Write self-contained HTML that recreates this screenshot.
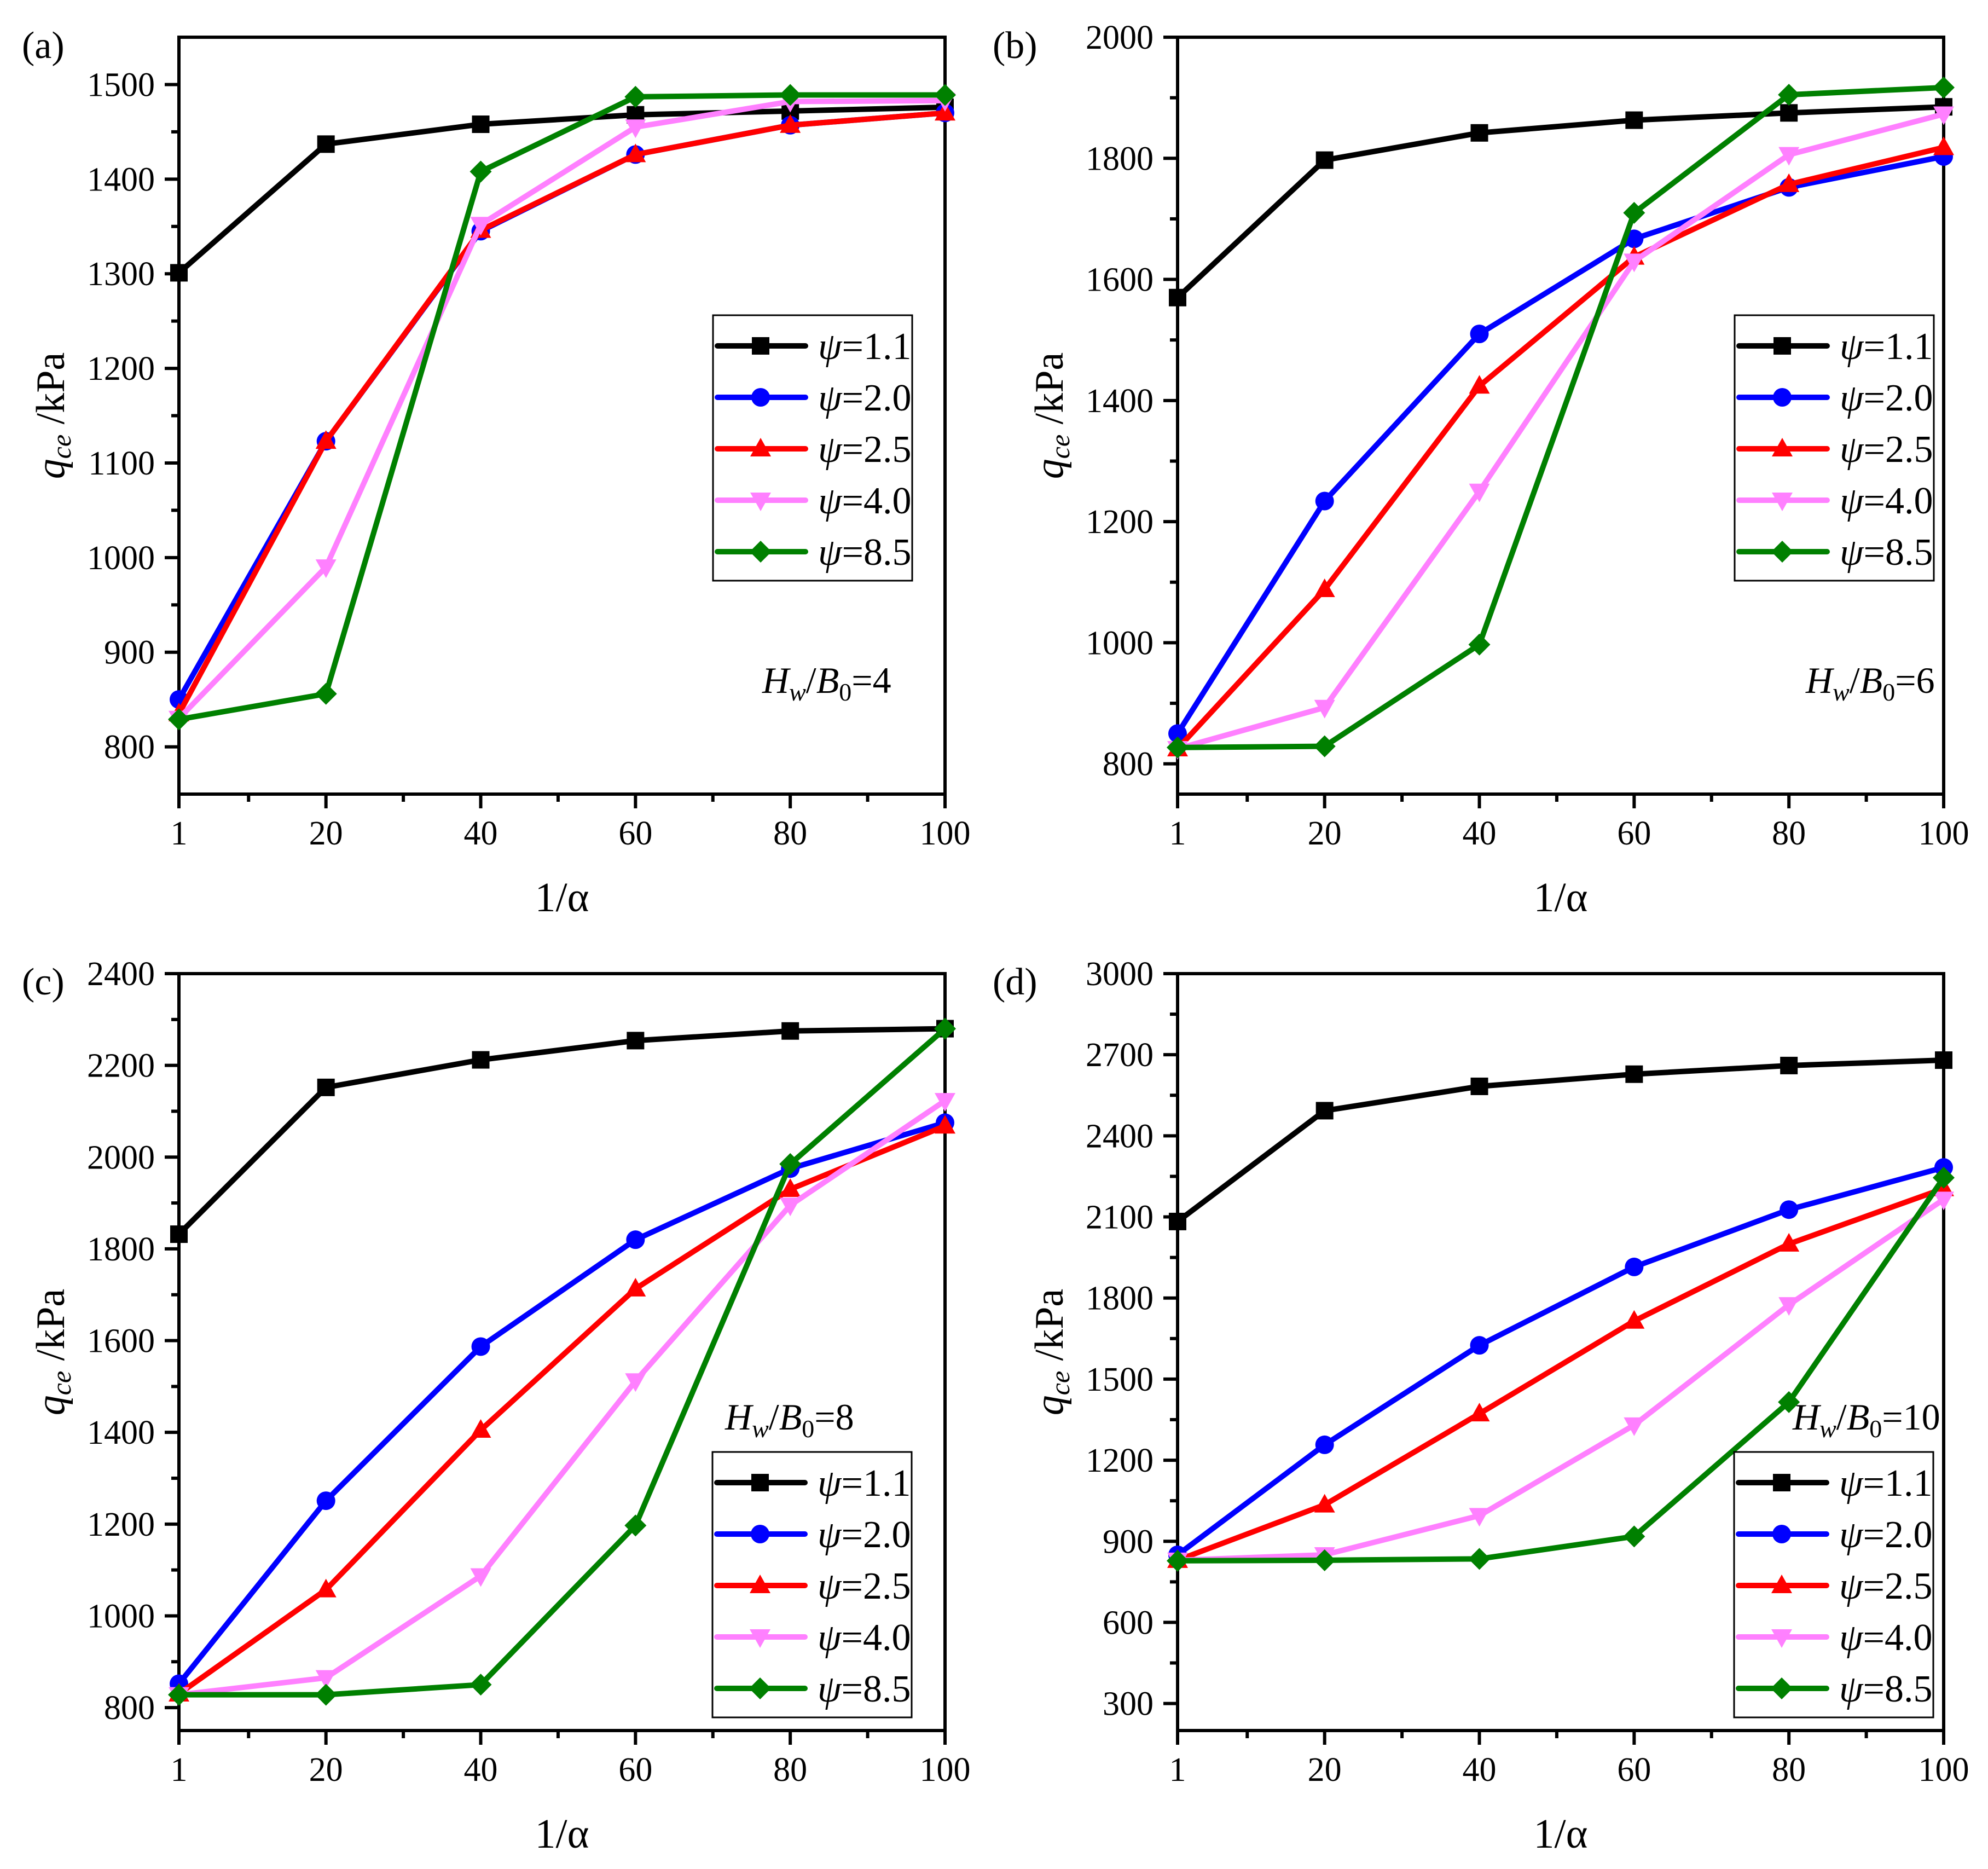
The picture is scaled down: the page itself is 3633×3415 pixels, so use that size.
<!DOCTYPE html>
<html><head><meta charset="utf-8"><style>
html,body{margin:0;padding:0;background:#fff;}
svg{display:block;}
text{font-family:"Liberation Serif","Times New Roman",serif;}
</style></head><body>
<svg id="fig" width="3633" height="3415" viewBox="0 0 3633 3415" xmlns="http://www.w3.org/2000/svg" font-family="Liberation Serif, serif"></svg>
<script>
const xCats=[1,20,40,60,80,100];
const seriesNames=['ψ=1.1','ψ=2.0','ψ=2.5','ψ=4.0','ψ=8.5'];
const colors=['#000000','#0000ff','#ff0000','#ff80ff','#008000'];
const markers=['square','circle','up','down','diamond'];
// panel a
const a_s1=[1301,1437,1458,1468,1472,1476];
const a_s2=[850,1123,1345,1426,1457,1470];
const a_s3=[835,1123,1346,1426,1457,1470];
const a_s4=[830,990,1352,1455,1482,1483];
const a_s5=[829,856,1408,1487,1489,1489];
const a_yticks=[800,900,1000,1100,1200,1300,1400,1500];
// panel b
const b_s1=[1570,1797,1842,1863,1875,1885];
const b_s2=[850,1234,1510,1667,1752,1803];
const b_s3=[825,1088,1424,1637,1757,1818];
const b_s4=[825,893,1250,1630,1806,1873];
const b_s5=[827,829,997,1710,1905,1917];
const b_yticks=[800,1000,1200,1400,1600,1800,2000];
// panel c
const c_s1=[1832,2152,2212,2254,2275,2280];
const c_s2=[852,1251,1587,1820,1975,2075];
const c_s3=[830,1057,1405,1713,1930,2068];
const c_s4=[828,865,1087,1512,1895,2123];
const c_s5=[828,828,850,1197,1985,2280];
const c_yticks=[800,1000,1200,1400,1600,1800,2000,2200,2400];
// panel d
const d_s1=[2083,2493,2583,2628,2660,2680];
const d_s2=[850,1257,1625,1915,2127,2283];
const d_s3=[830,1035,1372,1715,2000,2205];
const d_s4=[830,850,995,1330,1775,2165];
const d_s5=[828,830,835,918,1415,2245];
const d_yticks=[300,600,900,1200,1500,1800,2100,2400,2700,3000];

const NS='http://www.w3.org/2000/svg';
const svg=document.getElementById('fig');
const FF='Liberation Serif, Times New Roman, serif';
function mk(tag,attrs,parent){const e=document.createElementNS(NS,tag);for(const k in attrs)e.setAttribute(k,attrs[k]);if(tag==='text')e.setAttribute('font-family',FF);(parent||svg).appendChild(e);return e;}

function marker(g,type,cx,cy,color){
  let e;
  if(type==='square') e=mk('rect',{x:cx-16,y:cy-16,width:32,height:32,fill:color},g);
  else if(type==='circle') e=mk('circle',{cx:cx,cy:cy,r:17,fill:color},g);
  else if(type==='up') e=mk('polygon',{points:`${cx},${cy-20} ${cx+19},${cy+14} ${cx-19},${cy+14}`,fill:color},g);
  else if(type==='down') e=mk('polygon',{points:`${cx},${cy+20} ${cx+19},${cy-14} ${cx-19},${cy-14}`,fill:color},g);
  else e=mk('polygon',{points:`${cx},${cy-20} ${cx+20},${cy} ${cx},${cy+20} ${cx-20},${cy}`,fill:color},g);
  
  
  return e;
}

const panels=[
 {id:'a',x0:327,x1:1727,y0:68,y1:1451,ymin:750,ymax:1550,yt:a_yticks,minorStep:50,data:[a_s1,a_s2,a_s3,a_s4,a_s5],leg:[1303,576,1667,1061],ann:[1393,1266,'4'],lab:[40,106]},
 {id:'b',x0:2152,x1:3552,y0:68,y1:1451,ymin:750,ymax:2000,yt:b_yticks,minorStep:100,data:[b_s1,b_s2,b_s3,b_s4,b_s5],leg:[3170,576,3534,1061],ann:[3300,1266,'6'],lab:[1814,106]},
 {id:'c',x0:327,x1:1727,y0:1779,y1:3162,ymin:750,ymax:2400,yt:c_yticks,minorStep:100,data:[c_s1,c_s2,c_s3,c_s4,c_s5],leg:[1302,2653,1666,3138],ann:[1325,2612,'8'],lab:[40,1817]},
 {id:'d',x0:2152,x1:3552,y0:1779,y1:3162,ymin:200,ymax:3000,yt:d_yticks,minorStep:150,data:[d_s1,d_s2,d_s3,d_s4,d_s5],leg:[3169,2653,3533,3138],ann:[3276,2612,'10'],lab:[1814,1817]}
];

panels.forEach(p=>{
  const g=mk('g',{});
  
  
  const X=v=>p.x0+(v-1)/99*(p.x1-p.x0);
  const Y=v=>p.y1-(v-p.ymin)/(p.ymax-p.ymin)*(p.y1-p.y0);
  const fr=mk('rect',{x:p.x0,y:p.y0,width:p.x1-p.x0,height:p.y1-p.y0,fill:'none',stroke:'#000','stroke-width':6},g);
  
  
  xCats.forEach(v=>{
    mk('line',{x1:X(v),y1:p.y1,x2:X(v),y2:p.y1+26,stroke:'#000','stroke-width':6},g);
    const t=mk('text',{x:X(v),y:p.y1+92,'font-size':62,'text-anchor':'middle'},g);
    t.textContent=v;
    
    
  });
  [10,30,50,70,90].forEach(v=>mk('line',{x1:X(v),y1:p.y1,x2:X(v),y2:p.y1+14,stroke:'#000','stroke-width':6},g));
  p.yt.forEach(v=>{
    mk('line',{x1:p.x0-26,y1:Y(v),x2:p.x0,y2:Y(v),stroke:'#000','stroke-width':6},g);
    const t=mk('text',{x:p.x0-44,y:Y(v)+21,'font-size':62,'text-anchor':'end'},g);
    t.textContent=v;
    
    
  });
  for(let v=p.yt[0]-p.minorStep;v<p.ymax;v+=p.minorStep*2){ if(v>p.ymin) mk('line',{x1:p.x0-14,y1:Y(v),x2:p.x0,y2:Y(v),stroke:'#000','stroke-width':6},g);}
  const xt=mk('text',{x:(p.x0+p.x1)/2,y:p.y1+214,'font-size':76,'text-anchor':'middle'},g);
  xt.textContent='1/α';
  
  
  const yt=mk('text',{x:0,y:0,'font-size':74,'text-anchor':'middle',transform:`translate(${p.x0-210},${(p.y0+p.y1)/2}) rotate(-90)`},g);
  yt.innerHTML='<tspan font-style="italic">q</tspan><tspan font-style="italic" font-size="50" dy="12">ce</tspan><tspan dy="-12"> /kPa</tspan>';
  
  
  p.data.forEach((s,i)=>{
    const sg=mk('g',{},g);
    
    
    const pts=s.map((v,j)=>X(xCats[j])+','+Y(v)).join(' ');
    const pl=mk('polyline',{points:pts,fill:'none',stroke:colors[i],'stroke-width':10,'stroke-linejoin':'round'},sg);
    
    
    s.forEach((v,j)=>marker(sg,markers[i],X(xCats[j]),Y(v),colors[i]));
  });
  const [lx0,ly0,lx1,ly1]=p.leg;
  const lg=mk('g',{},g);
  
  
  mk('rect',{x:lx0,y:ly0,width:lx1-lx0,height:ly1-ly0,fill:'#fff',stroke:'#000','stroke-width':3},lg);
  seriesNames.forEach((n,i)=>{
    const cy=ly0+56+i*94;
    const eg=mk('g',{},lg);
    
    
    mk('line',{x1:lx0+8,y1:cy,x2:lx0+169,y2:cy,stroke:colors[i],'stroke-width':10,'stroke-linecap':'round'},eg);
    marker(eg,markers[i],lx0+87,cy,colors[i]);
    const t=mk('text',{x:lx0+192,y:cy+24,'font-size':70},eg);
    t.innerHTML='<tspan font-style="italic">ψ</tspan>='+n.slice(2);
  });
  const an=mk('text',{x:p.ann[0],y:p.ann[1],'font-size':68},g);
  an.innerHTML='<tspan font-style="italic">H</tspan><tspan font-style="italic" font-size="46" dy="14">w</tspan><tspan dy="-14">/</tspan><tspan font-style="italic">B</tspan><tspan font-size="46" dy="14">0</tspan><tspan dy="-14">='+p.ann[2]+'</tspan>';
  
  
  const lb=mk('text',{x:p.lab[0],y:p.lab[1],'font-size':70},g);
  lb.textContent='('+p.id+')';
  
  
});
</script>
</body></html>
